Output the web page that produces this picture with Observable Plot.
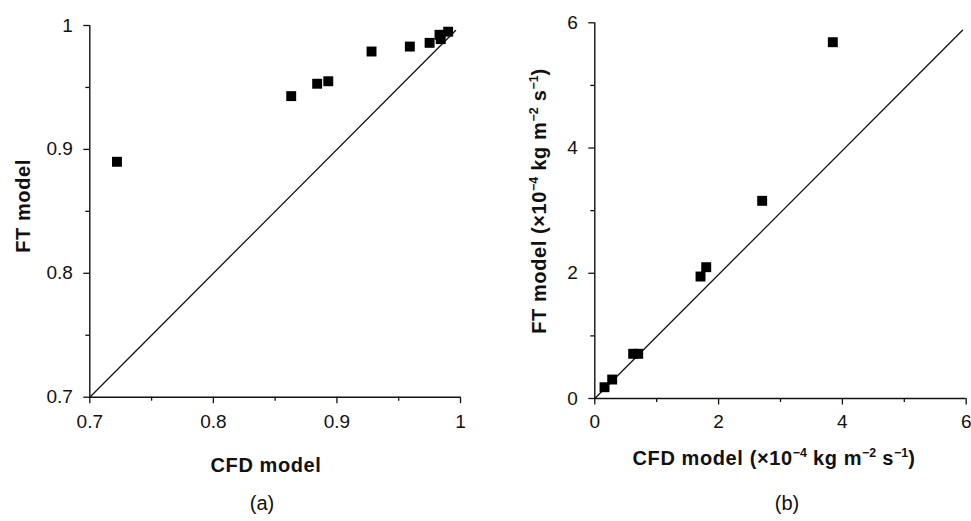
<!DOCTYPE html>
<html><head><meta charset="utf-8">
<script src="https://cdn.jsdelivr.net/npm/d3@7"></script>
<script src="https://cdn.jsdelivr.net/npm/@observablehq/plot@0.6"></script>
<style>
html,body{margin:0;padding:0;background:#fff;overflow:hidden}
#fig{position:relative;width:971px;height:521px;font-family:"Liberation Sans",Arial,sans-serif;color:#111;overflow:hidden}
.panel{position:absolute;top:0}
.lbl{position:absolute;font-weight:bold;font-size:20px;letter-spacing:0.6px;white-space:nowrap;transform:translate(-50%,-50%)}
.rot{transform:translate(-50%,-50%) rotate(-90deg)}
.cap{position:absolute;font-size:20px;white-space:nowrap;transform:translate(-50%,-50%)}
sup{font-size:0.62em;line-height:0;vertical-align:0.6em;letter-spacing:0}
</style>
</head><body>
<div id="fig">
  <div class="panel" id="pa" style="left:0px"></div>
  <div class="panel" id="pb" style="left:485px"></div>
  <div class="lbl" style="left:266px;top:465px">CFD model</div>
  <div class="lbl rot" style="left:23px;top:206px">FT model</div>
  <div class="cap" style="left:262px;top:503px">(a)</div>
  <div class="lbl" style="left:774px;top:458px">CFD model (×10<sup>−4</sup> kg m<sup>−2</sup> s<sup>−1</sup>)</div>
  <div class="lbl rot" style="left:539px;top:201px">FT model (×10<sup>−4</sup> kg m<sup>−2</sup> s<sup>−1</sup>)</div>
  <div class="cap" style="left:787px;top:503px">(b)</div>
</div>
<script>
// Panel (a): CFD model vs FT model (dimensionless)
const cfdA = [0.722, 0.863, 0.884, 0.893, 0.928, 0.959, 0.975, 0.983, 0.984, 0.990];
const ftA  = [0.890, 0.943, 0.953, 0.955, 0.979, 0.983, 0.986, 0.9925, 0.989, 0.995];
const parityAx = [0.7, 0.996];
const parityAy = [0.7, 0.996];
const majorTicksA = [0.7, 0.8, 0.9, 1];
const minorTicksA = [0.75, 0.85, 0.95];

// Panel (b): CFD model vs FT model (×10^-4 kg m^-2 s^-1)
const cfdB = [0.157, 0.281, 0.620, 0.701, 1.708, 1.800, 2.704, 3.845];
const ftB  = [0.180, 0.303, 0.714, 0.714, 1.948, 2.097, 3.157, 5.690];
const parityBx = [0, 5.94];
const parityBy = [0, 5.88];
const majorTicksB = [0, 2, 4, 6];
const minorTicksB = [1, 3, 5];

const fmt = d => String(d);
const ink = "#111";
const style = {fontFamily:'"Liberation Sans", Arial, sans-serif', fontSize:"19px", color:ink, background:"transparent", overflow:"visible"};

function panel({xs, ys, px, py, major, minor, domain, width, height, mL, mR, mT, mB, padX}) {
  const pts = xs.map((x, i) => ({x, y: ys[i]}));
  const line = px.map((x, i) => ({x, y: py[i]}));
  return Plot.plot({
    width, height, marginLeft: mL, marginRight: mR, marginTop: mT, marginBottom: mB,
    style,
    x: {domain}, y: {domain},
    marks: [
      Plot.axisX(major, {tickSize: 6.5, tickPadding: padX, tickFormat: fmt, label: null, fontSize: 19, strokeWidth: 1.3}),
      Plot.axisX(minor, {tickSize: 4, tickFormat: () => "", label: null, strokeWidth: 1.3}),
      Plot.axisY(major, {tickSize: 6, tickPadding: 11, tickFormat: fmt, label: null, fontSize: 19, strokeWidth: 1.3}),
      Plot.axisY(minor, {tickSize: 4, tickFormat: () => "", label: null, strokeWidth: 1.3}),
      Plot.ruleX([domain[0]], {stroke: ink, strokeWidth: 1.4}),
      Plot.ruleY([domain[0]], {stroke: ink, strokeWidth: 1.4}),
      Plot.line(line, {x: "x", y: "y", stroke: ink, strokeWidth: 1.3}),
      Plot.dot(pts, {x: "x", y: "y", symbol: "square", fill: "#000", stroke: "none", r: 5.6})
    ]
  });
}

document.getElementById("pa").append(panel({
  xs: cfdA, ys: ftA, px: parityAx, py: parityAy, major: majorTicksA, minor: minorTicksA,
  domain: [0.7, 1], width: 480, height: 440, mL: 89.3, mR: 20, mT: 25, mB: 43.3, padX: 10.5
}));
document.getElementById("pb").append(panel({
  xs: cfdB, ys: ftB, px: parityBx, py: parityBy, major: majorTicksB, minor: minorTicksB,
  domain: [0, 6], width: 486, height: 440, mL: 109.3, mR: 5.3, mT: 22.3, mB: 42, padX: 9.5
}));
</script>
</body></html>
